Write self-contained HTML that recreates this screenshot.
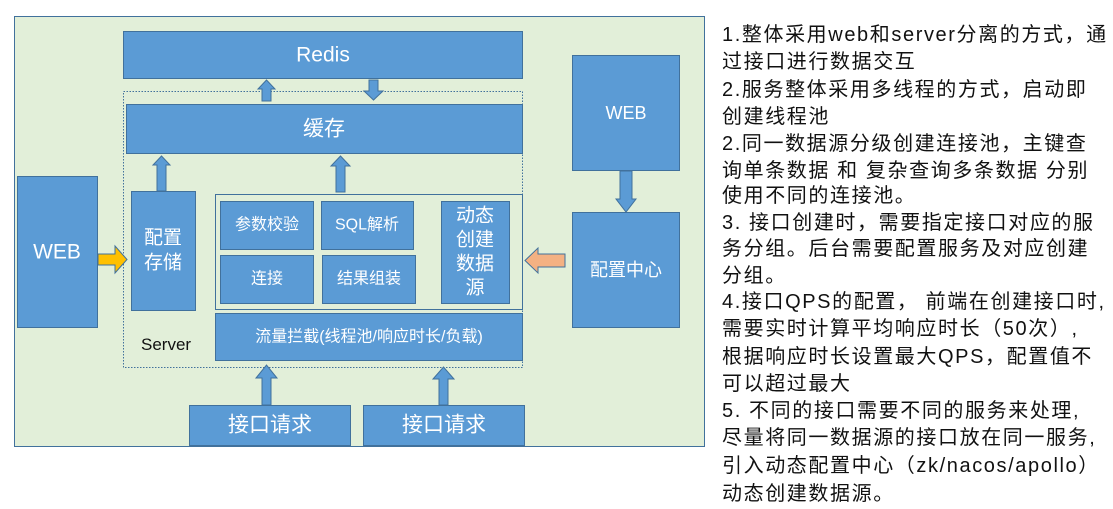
<!DOCTYPE html>
<html><head><meta charset="utf-8"><style>
body{margin:0;background:#fff;width:1113px;height:509px;overflow:hidden;position:relative;font-family:"Liberation Sans","Noto Sans CJK SC",sans-serif}
svg{position:absolute;left:0;top:0}
.t{position:absolute;left:722px;font-size:20px;letter-spacing:1.6px;color:#111;white-space:nowrap;line-height:24px;font-family:"Liberation Sans","Noto Sans CJK SC",sans-serif}
</style></head><body>
<svg width="1113" height="509" font-family="Liberation Sans, Noto Sans CJK SC, sans-serif">
<rect x="14.5" y="16.5" width="690" height="430" fill="#e2efd9" stroke="#41719c"/>
<rect x="123.5" y="91.5" width="399" height="276" fill="none" stroke="#41719c" stroke-dasharray="1.5,1.5"/>
<rect x="215.5" y="194.5" width="307" height="115" fill="none" stroke="#41719c"/>
<g fill="#5b9bd5" stroke="#41719c" stroke-width="1">
<rect x="123.5" y="31.5" width="399" height="47"/>
<rect x="126.5" y="104.5" width="396" height="49"/>
<rect x="17.5" y="176.5" width="80" height="151"/>
<rect x="131.5" y="191.5" width="64" height="119"/>
<rect x="220.5" y="201.5" width="93" height="48"/>
<rect x="321.5" y="201.5" width="92" height="48"/>
<rect x="220.5" y="255.5" width="93" height="48"/>
<rect x="322.5" y="255.5" width="93" height="48"/>
<rect x="441.5" y="201.5" width="68" height="102"/>
<rect x="215.5" y="313.5" width="307" height="47"/>
<rect x="189.5" y="405.5" width="161" height="40"/>
<rect x="363.5" y="405.5" width="161" height="40"/>
<rect x="572.5" y="55.5" width="107" height="115"/>
<rect x="572.5" y="212.5" width="107" height="115"/>
<polygon points="262,101 271,101 271,89 275,89 266.5,80 258,89 262,89"/>
<polygon points="369,80 378,80 378,91 383,91 373.5,100 364,91 369,91"/>
<polygon points="157,191 166,191 166,165 170,165 161.5,156 153,165 157,165"/>
<polygon points="336,192 345,192 345,166 350,166 340.5,156 331,166 336,166"/>
<polygon points="262,405 271,405 271,378 277,378 266.5,365 256,378 262,378"/>
<polygon points="439,405 448,405 448,379 454,379 443.5,367 433,379 439,379"/>
<polygon points="620,171 632,171 632,199 636,199 626,212 616,199 620,199"/>
</g>
<polygon points="98,254 115,254 115,246 127,259.5 115,273 115,265 98,265" fill="#ffc000" stroke="#41719c"/>
<polygon points="565,254 538,254 538,248 525,260.5 538,273 538,267 565,267" fill="#f4b183" stroke="#41719c"/>
<g fill="#fff" text-anchor="middle" dominant-baseline="central">
<text x="323" y="55" font-size="21">Redis</text>
<text x="324" y="129" font-size="21">缓存</text>
<text x="57" y="252" font-size="21">WEB</text>
<text x="163" y="238" font-size="19">配置</text>
<text x="163" y="263" font-size="19">存储</text>
<text x="267" y="225" font-size="16">参数校验</text>
<text x="367" y="225" font-size="16">SQL解析</text>
<text x="267" y="279" font-size="16">连接</text>
<text x="369" y="279" font-size="16">结果组装</text>
<text x="475" y="216" font-size="19">动态</text>
<text x="475" y="240" font-size="19">创建</text>
<text x="475" y="264" font-size="19">数据</text>
<text x="475" y="288" font-size="19">源</text>
<text x="369" y="337" font-size="16">流量拦截(线程池/响应时长/负载)</text>
<text x="270" y="425" font-size="21">接口请求</text>
<text x="444" y="425" font-size="21">接口请求</text>
<text x="626" y="113" font-size="18">WEB</text>
<text x="626" y="270" font-size="18">配置中心</text>
</g>
<text x="141" y="350" font-size="17" fill="#111">Server</text>
</svg>
<div class="t" style="top:23px">1.整体采用web和server分离的方式，通</div>
<div class="t" style="top:50px">过接口进行数据交互</div>
<div class="t" style="top:78px">2.服务整体采用多线程的方式，启动即</div>
<div class="t" style="top:105px">创建线程池</div>
<div class="t" style="top:132px">2.同一数据源分级创建连接池，主键查</div>
<div class="t" style="top:159px">询单条数据 和 复杂查询多条数据 分别</div>
<div class="t" style="top:184px">使用不同的连接池。</div>
<div class="t" style="top:211px">3. 接口创建时，需要指定接口对应的服</div>
<div class="t" style="top:237px">务分组。后台需要配置服务及对应创建</div>
<div class="t" style="top:264px">分组。</div>
<div class="t" style="top:290px">4.接口QPS的配置， 前端在创建接口时,</div>
<div class="t" style="top:317px">需要实时计算平均响应时长（50次）,</div>
<div class="t" style="top:345px">根据响应时长设置最大QPS，配置值不</div>
<div class="t" style="top:372px">可以超过最大</div>
<div class="t" style="top:399px">5. 不同的接口需要不同的服务来处理,</div>
<div class="t" style="top:426px">尽量将同一数据源的接口放在同一服务,</div>
<div class="t" style="top:454px">引入动态配置中心（zk/nacos/apollo）</div>
<div class="t" style="top:482px">动态创建数据源。</div>
</body></html>
